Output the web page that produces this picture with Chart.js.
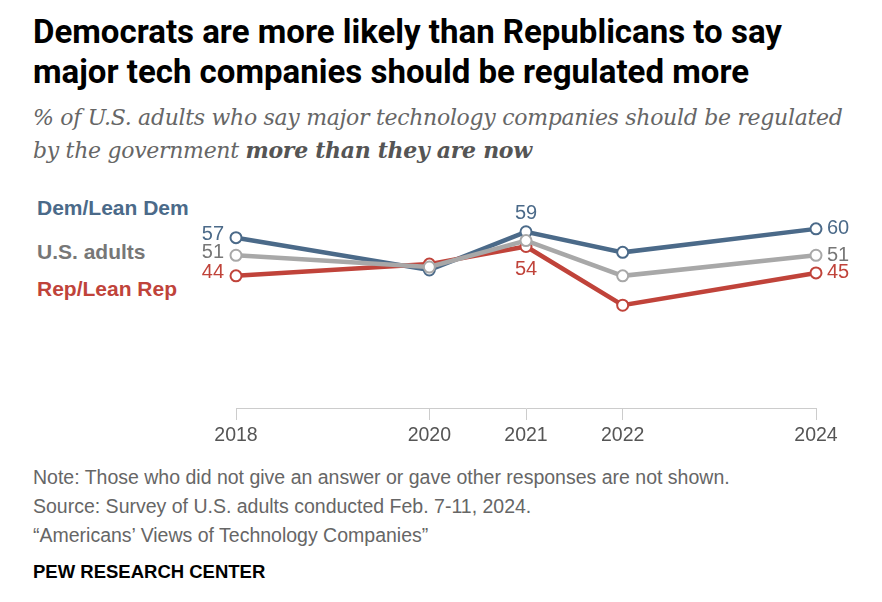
<!DOCTYPE html>
<html><head><meta charset="utf-8">
<script src="https://cdn.jsdelivr.net/npm/chart.js@4"></script>
<style>
body{margin:0;width:882px;height:602px;background:#fff;font-family:"Liberation Sans",Arial,sans-serif;position:relative;overflow:hidden}
.a{position:absolute;white-space:nowrap}
</style></head><body>
<div class="a" style="left:33px;top:12px;font-size:33px;font-weight:bold;line-height:40px;color:#000;font-family:Roboto,'Liberation Sans';">Democrats are more likely than Republicans to say<br>major tech companies should be regulated more</div>
<div class="a" style="left:33px;top:101px;font-size:22px;line-height:33px;color:#666;font-style:italic;font-family:'DejaVu Serif',serif;letter-spacing:-0.3px">% of U.S. adults who say major technology companies should be regulated<br>by the government <b style="color:#555">more than they are now</b></div>
<div class="a" style="left:37px;top:196px;font-size:21px;font-weight:bold;color:#4b6a89">Dem/Lean Dem</div>
<div class="a" style="left:37px;top:240px;font-size:21px;font-weight:bold;color:#777">U.S. adults</div>
<div class="a" style="left:37px;top:277px;font-size:21px;font-weight:bold;color:#c0433a">Rep/Lean Rep</div>
<div class="a" style="left:33px;top:463px;font-size:19.5px;line-height:29px;color:#666">Note: Those who did not give an answer or gave other responses are not shown.<br>Source: Survey of U.S. adults conducted Feb. 7-11, 2024.<br>“Americans’ Views of Technology Companies”</div>
<div class="a" style="left:33px;top:561px;font-size:18.5px;font-weight:bold;color:#000">PEW RESEARCH CENTER</div>
<div class="a" style="left:0;top:150px;width:882px;height:298px"><canvas id="c"></canvas></div>
<script>
const years = [2018, 2020, 2021, 2022, 2024];
const dem = [57, 46, 59, 52, 60];
const usa = [51, 47, 56, 44, 51];
const rep = [44, 48, 54, 34, 45];
const demC = '#4b6a89', usC = '#a8a8a8', repC = '#c0433a';

// which labels to show: [series, colour, index, side]
const valueLabels = [
    [dem, demC, 0, 'left'], [usa, '#777', 0, 'left'], [rep, repC, 0, 'left'],
    [dem, demC, 2, 'above'], [rep, repC, 2, 'below'],
    [dem, demC, 4, 'right'], [usa, '#777', 4, 'right'], [rep, repC, 4, 'right']
];

const labelPlugin = {
    id: 'vals',
    afterDatasetsDraw(chart) {
        const ctx = chart.ctx, x = chart.scales.x, y = chart.scales.y;
        ctx.save();
        ctx.font = '20px "Liberation Sans", Arial';
        ctx.textBaseline = 'middle';
        valueLabels.forEach(([arr, col, i, side]) => {
            const px = x.getPixelForValue(years[i]), py = y.getPixelForValue(arr[i]);
            ctx.fillStyle = col;
            if (side === 'left') { ctx.textAlign = 'right'; ctx.fillText(arr[i], px - 12, py - 3); }
            else if (side === 'right') { ctx.textAlign = 'left'; ctx.fillText(arr[i], px + 11, py); }
            else if (side === 'above') { ctx.textAlign = 'center'; ctx.fillText(arr[i], px, py - 18); }
            else { ctx.textAlign = 'center'; ctx.fillText(arr[i], px, py + 23); }
        });
        ctx.restore();
    }
};

function ds(data, col) {
    return {
        data: years.map((yr, i) => ({x: yr, y: data[i]})),
        borderColor: col, borderWidth: 4.5,
        pointBackgroundColor: '#fff', pointBorderColor: col, pointBorderWidth: 2,
        pointRadius: 5.5, tension: 0, clip: false
    };
}

new Chart(document.getElementById('c'), {
    type: 'line',
    data: { datasets: [ds(usa, usC), ds(rep, repC), ds(dem, demC)] },
    options: {
        responsive: true, maintainAspectRatio: false, animation: false,
        layout: { padding: { left: 236, right: 66, top: 0, bottom: 0 } },
        plugins: { legend: { display: false }, tooltip: { enabled: false } },
        scales: {
            x: {
                type: 'linear', min: 2018, max: 2024,
                afterBuildTicks: s => { s.ticks = years.map(v => ({value: v})); },
                afterFit: s => { s.height = 40; },
                grid: { drawOnChartArea: false, tickLength: 12, color: '#ccc' },
                border: { color: '#ccc' },
                ticks: { color: '#555', font: { size: 19.5, family: 'Liberation Sans' }, padding: 4, callback: v => String(v) }
            },
            y: { display: false, min: -1, max: 84.3 }
        }
    },
    plugins: [labelPlugin]
});
</script>
</body></html>
